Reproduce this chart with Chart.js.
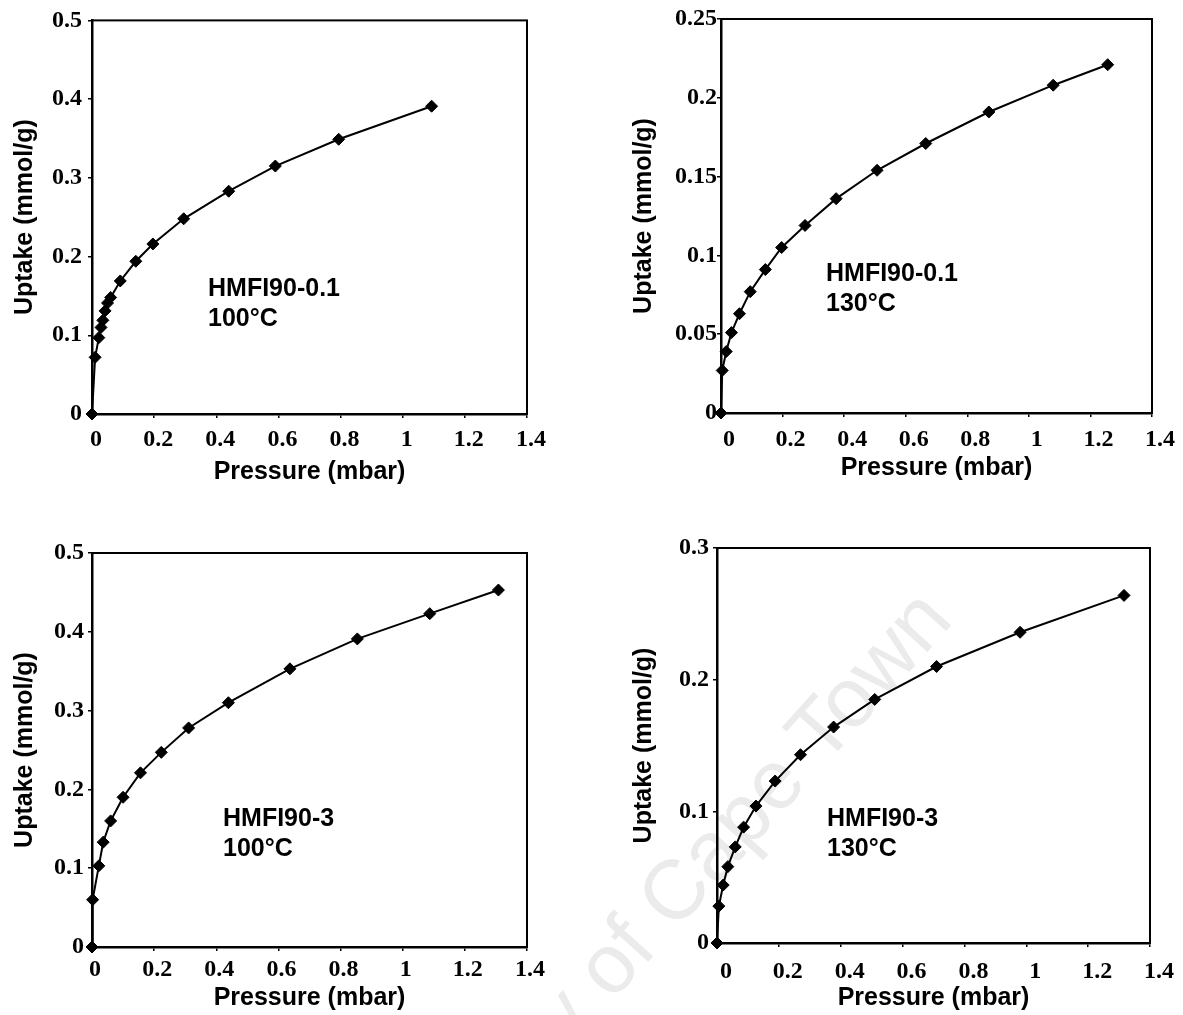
<!DOCTYPE html>
<html>
<head>
<meta charset="utf-8">
<script src="https://cdn.jsdelivr.net/npm/chart.js@4.4.1/dist/chart.umd.min.js"></script>
<style>
html, body { margin: 0; padding: 0; background: #fff; }
#page { position: relative; width: 1183px; height: 1015px; overflow: hidden; background: #fff; }
.panel { position: absolute; z-index: 2; }
.note { position: absolute; z-index: 3; font: bold 25px "Liberation Sans", Arial, sans-serif; line-height: 30px; color: #000; white-space: nowrap; }
#mark { position: absolute; z-index: 1; right: 250px; top: 562px; font: 84px "Liberation Sans", Arial, sans-serif; line-height: 80px; color: #ebebeb; white-space: nowrap; transform: rotate(-48deg); transform-origin: 100% 50%; }
</style>
</head>
<body>
<div id="page">
  <div id="mark">University of Cape Town</div>
</div>
<script>
// Tick values and labels
const pressureTicks = [0, 0.2, 0.4, 0.6, 0.8, 1, 1.2, 1.4];
const pressureLabels = ['0', '0.2', '0.4', '0.6', '0.8', '1', '1.2', '1.4'];
const uptakeTicks05 = [0, 0.1, 0.2, 0.3, 0.4, 0.5];
const uptakeLabels05 = ['0', '0.1', '0.2', '0.3', '0.4', '0.5'];
const uptakeTicks025 = [0, 0.05, 0.1, 0.15, 0.2, 0.25];
const uptakeLabels025 = ['0', '0.05', '0.1', '0.15', '0.2', '0.25'];
const uptakeTicks03 = [0, 0.1, 0.2, 0.3];
const uptakeLabels03 = ['0', '0.1', '0.2', '0.3'];

// HMFI90-0.1 at 100°C
const pressA = [0, 0.01, 0.022, 0.029, 0.035, 0.042, 0.05, 0.06, 0.091, 0.141, 0.196, 0.295, 0.44, 0.59, 0.794, 1.093];
const uptakeA = [0, 0.072, 0.097, 0.11, 0.119, 0.131, 0.141, 0.148, 0.169, 0.194, 0.216, 0.248, 0.283, 0.315, 0.349, 0.391];

// HMFI90-0.1 at 130°C
const pressB = [0, 0.004, 0.017, 0.034, 0.06, 0.095, 0.144, 0.197, 0.273, 0.374, 0.507, 0.665, 0.87, 1.079, 1.256];
const uptakeB = [0, 0.027, 0.039, 0.051, 0.063, 0.077, 0.091, 0.105, 0.119, 0.136, 0.154, 0.171, 0.191, 0.208, 0.221];

// HMFI90-3 at 100°C
const pressC = [0, 0.002, 0.022, 0.036, 0.06, 0.1, 0.156, 0.223, 0.311, 0.439, 0.637, 0.854, 1.087, 1.308];
const uptakeC = [0, 0.06, 0.103, 0.133, 0.16, 0.19, 0.221, 0.247, 0.278, 0.31, 0.353, 0.391, 0.423, 0.453];

// HMFI90-3 at 130°C
const pressD = [0, 0.006, 0.02, 0.035, 0.059, 0.086, 0.126, 0.188, 0.27, 0.377, 0.51, 0.71, 0.98, 1.316];
const uptakeD = [0, 0.028, 0.044, 0.058, 0.073, 0.088, 0.104, 0.123, 0.143, 0.164, 0.185, 0.21, 0.236, 0.264];

const page = document.getElementById('page');

// Plot-area boxes and per-panel tweaks
const panels = [
  { x: pressA, y: uptakeA, yMax: 0.5, yTicks: uptakeTicks05, yLabels: uptakeLabels05,
    box: [92, 20, 527, 414], yPad: 6, yTitlePad: 10, xPad: 7, xShift: 4, titleGap: 58,
    name: 'HMFI90-0.1', temp: '100°C', noteAt: [208, 272] },
  { x: pressB, y: uptakeB, yMax: 0.25, yTicks: uptakeTicks025, yLabels: uptakeLabels025,
    box: [721, 19, 1152, 413], yPad: 0, yTitlePad: 0, xPad: 8, xShift: 8, titleGap: 55,
    name: 'HMFI90-0.1', temp: '130°C', noteAt: [826, 257] },
  { x: pressC, y: uptakeC, yMax: 0.5, yTicks: uptakeTicks05, yLabels: uptakeLabels05,
    box: [92, 553, 527, 947], yPad: 4, yTitlePad: 10, xPad: 4, xShift: 3, titleGap: 51,
    name: 'HMFI90-3', temp: '100°C', noteAt: [223, 802] },
  { x: pressD, y: uptakeD, yMax: 0.3, yTicks: uptakeTicks03, yLabels: uptakeLabels03,
    box: [717, 548, 1150, 943], yPad: 4, yTitlePad: 4, xPad: 10, xShift: 9, titleGap: 55,
    name: 'HMFI90-3', temp: '130°C', noteAt: [827, 802] }
];

const AXIS_W = 92, AXIS_H = 80, PAD_TOP = 20, PAD_RIGHT = 45;
const tickFont = { family: "'Liberation Serif', 'Times New Roman', serif", size: 24, weight: 'bold' };
const titleFont = { family: "'Liberation Sans', Arial, sans-serif", size: 25, weight: 'bold' };

// Frame round the plot area
const frame = {
  id: 'frame',
  beforeDatasetsDraw(chart) {
    const { ctx, chartArea: a } = chart;
    ctx.save();
    ctx.strokeStyle = '#000';
    ctx.lineWidth = 2;
    ctx.strokeRect(a.left, a.top, a.right - a.left, a.bottom - a.top);
    ctx.restore();
  }
};

function makePanel(p) {
  const [l, t, r, b] = p.box;
  const canvas = document.createElement('canvas');
  canvas.className = 'panel';
  canvas.width = (r - l) + AXIS_W + PAD_RIGHT;
  canvas.height = (b - t) + PAD_TOP + AXIS_H;
  canvas.style.left = (l - AXIS_W) + 'px';
  canvas.style.top = (t - PAD_TOP) + 'px';
  page.appendChild(canvas);

  const note = document.createElement('div');
  note.className = 'note';
  note.style.left = p.noteAt[0] + 'px';
  note.style.top = p.noteAt[1] + 'px';
  note.innerHTML = p.name + '<br>' + p.temp;
  page.appendChild(note);

  new Chart(canvas, {
    type: 'line',
    data: {
      datasets: [{
        data: p.x.map((v, i) => ({ x: v, y: p.y[i] })),
        borderColor: '#000',
        borderWidth: 2,
        backgroundColor: '#000',
        pointStyle: 'rectRot',
        pointRadius: 6,
        pointBorderWidth: 1,
        pointBackgroundColor: '#000',
        pointBorderColor: '#000',
        tension: 0,
        fill: false,
        clip: false
      }]
    },
    options: {
      responsive: false,
      animation: false,
      devicePixelRatio: 1,
      layout: { padding: { top: PAD_TOP, right: PAD_RIGHT, left: 0, bottom: 0 } },
      plugins: { legend: { display: false }, tooltip: { enabled: false } },
      scales: {
        x: {
          type: 'linear',
          min: 0,
          max: 1.4,
          afterBuildTicks: s => { s.ticks = pressureTicks.map(v => ({ value: v })); },
          afterFit: s => { s.height = AXIS_H; },
          grid: { drawOnChartArea: false, drawTicks: true, tickLength: 4, color: '#000', lineWidth: 1.5 },
          border: { color: '#000', width: 2.5 },
          ticks: {
            color: '#000', font: tickFont, padding: p.xPad, labelOffset: p.xShift,
            maxRotation: 0, autoSkip: false,
            callback: (v, i) => pressureLabels[i]
          },
          title: {
            display: true, text: 'Pressure (mbar)', color: '#000', font: titleFont,
            padding: { top: 0, bottom: 65 - p.titleGap }
          }
        },
        y: {
          type: 'linear',
          min: 0,
          max: p.yMax,
          afterBuildTicks: s => { s.ticks = p.yTicks.map(v => ({ value: v })); },
          afterFit: s => { s.width = AXIS_W; },
          grid: { drawOnChartArea: false, drawTicks: true, tickLength: 4, color: '#000', lineWidth: 1.5 },
          border: { color: '#000', width: 2.5 },
          ticks: {
            color: '#000', font: tickFont, padding: p.yPad, autoSkip: false,
            callback: (v, i) => p.yLabels[i]
          },
          title: {
            display: true, text: 'Uptake (mmol/g)', color: '#000', font: titleFont,
            padding: { top: p.yTitlePad, bottom: 0 }
          }
        }
      }
    },
    plugins: [frame]
  });
}

panels.forEach(makePanel);
</script>
</body>
</html>
